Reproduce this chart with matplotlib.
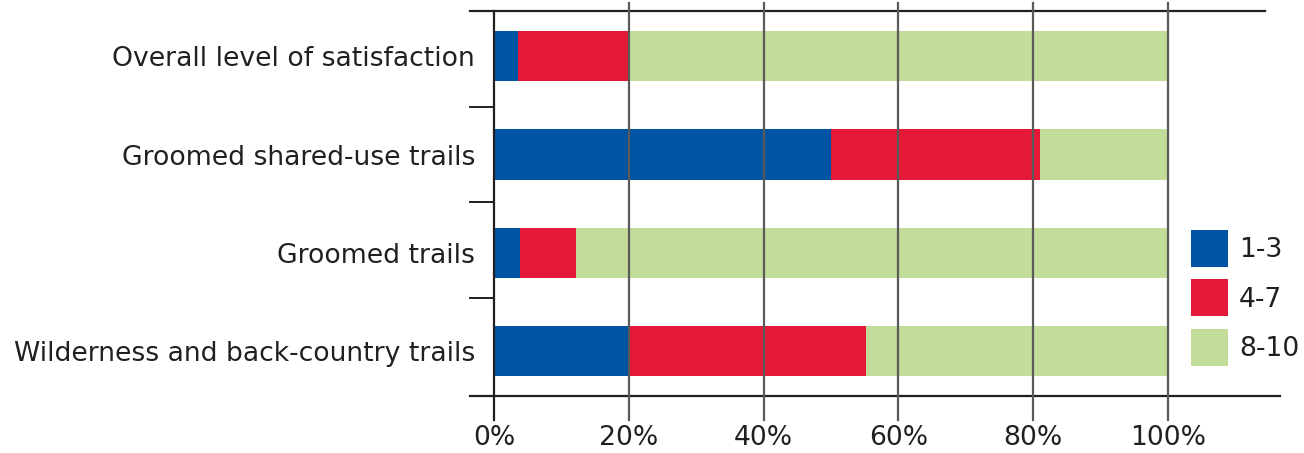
import matplotlib
matplotlib.use("Agg")
import matplotlib.pyplot as plt
import numpy as np

categories = ["Wilderness and back-country trails", "Groomed trails",
              "Groomed shared-use trails", "Overall level of satisfaction"]
series_names = ["1-3", "4-7", "8-10"]
low = [19.9, 3.9, 50.0, 3.6]
mid = [35.3, 8.3, 31.0, 16.6]
high = [44.8, 87.8, 19.0, 79.8]
xticks = [0, 20, 40, 60, 80, 100]
xtick_labels = ["0%", "20%", "40%", "60%", "80%", "100%"]

colors = ["#0054A4", "#E31937", "#C2DC99"]
text_color = "#231F20"

plt.rcParams['font.family'] = ['DejaVu Sans']
FS = 19.2

fig = plt.figure(figsize=(13.04, 4.53), dpi=100)
ax = fig.add_axes([470/1304, 1-396/453, (1280-470)/1304, (396-11)/453])

y = np.arange(len(categories))
left = np.zeros(len(categories))
bars = []
for vals, c, name in zip([low, mid, high], colors, series_names):
    b = ax.barh(y, vals, left=left, height=0.51, color=c, label=name, zorder=2)
    bars.append(b)
    left += np.array(vals)

x_lo, x_hi = -3.56, 116.6
y_lo, y_hi = -0.455, 3.46
ax.set_xlim(x_lo, x_hi)
ax.set_ylim(y_lo, y_hi)
for s in ax.spines.values():
    s.set_visible(False)

line_c = "#231F20"
grid_c = "#5a5a5a"
ax.plot([x_lo, 114.4], [y_hi, y_hi], color=line_c, lw=1.6, clip_on=False, zorder=3)
ax.plot([x_lo, x_hi], [y_lo, y_lo], color=line_c, lw=1.6, clip_on=False, zorder=3)
for sep in [0.54, 1.52, 2.48]:
    ax.plot([x_lo, 0], [sep, sep], color=line_c, lw=1.4, clip_on=False, zorder=3)
ext_top = y_hi + 8/98.5
ext_bot = y_lo - 24/98.5
for xv in xticks:
    top = y_hi if xv == 0 else ext_top
    ax.plot([xv, xv], [ext_bot, top], color=line_c if xv == 0 else grid_c,
            lw=1.6, clip_on=False, zorder=3)

ax.set_xticks(xticks)
ax.set_xticklabels(xtick_labels, fontsize=FS, color=text_color)
ax.tick_params(axis='x', length=0, pad=21)
ax.set_yticks(y)
ax.set_yticklabels(categories, fontsize=FS, color=text_color)
ax.tick_params(axis='y', length=0, pad=-3.6)

leg = ax.legend(handles=bars, labels=series_names, loc='upper left',
                bbox_to_anchor=((1191-470)/810, (396-230)/385),
                frameon=False, fontsize=FS, handlelength=1.386, handleheight=1.755,
                handletextpad=0.42, labelspacing=0.47, borderaxespad=0, borderpad=0)
for t in leg.get_texts():
    t.set_color(text_color)

fig.savefig("out.png", dpi=100)
